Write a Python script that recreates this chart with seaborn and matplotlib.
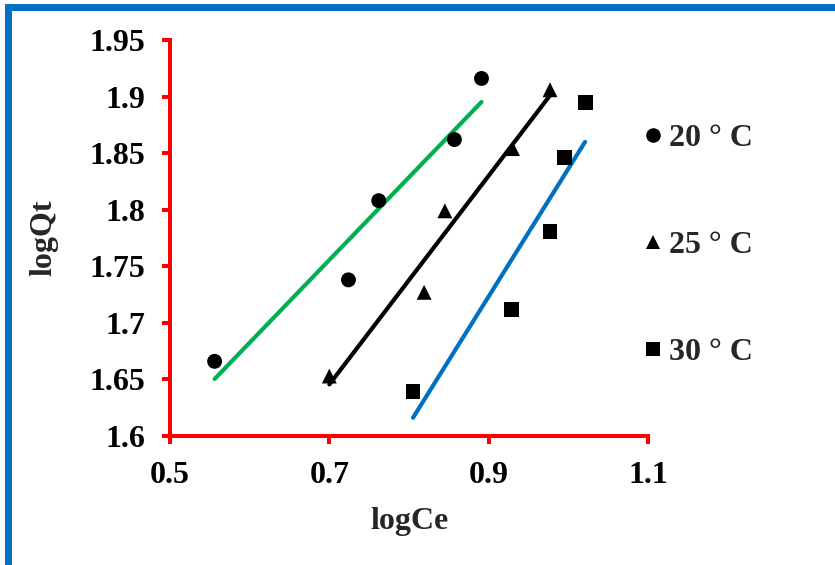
import numpy as np
import pandas as pd
import matplotlib
matplotlib.use("Agg")
import matplotlib.pyplot as plt
from matplotlib.lines import Line2D
import seaborn as sns

# ---- data ----
labels = ["20 \u00b0 C", "25 \u00b0 C", "30 \u00b0 C"]
x20 = [0.556, 0.724, 0.762, 0.857, 0.891]
y20 = [1.666, 1.738, 1.808, 1.862, 1.916]
x25 = [0.700, 0.819, 0.845, 0.930, 0.977]
y25 = [1.653, 1.727, 1.799, 1.854, 1.906]
x30 = [0.805, 0.929, 0.977, 0.995, 1.021]
y30 = [1.639, 1.712, 1.781, 1.846, 1.895]
xticks = [0.5, 0.7, 0.9, 1.1]
xticklabels = ["0.5", "0.7", "0.9", "1.1"]
yticks = [1.6, 1.65, 1.7, 1.75, 1.8, 1.85, 1.9, 1.95]
yticklabels = ["1.6", "1.65", "1.7", "1.75", "1.8", "1.85", "1.9", "1.95"]
line_colors = ["#00B050", "#000000", "#0070C0"]
markers = ["o", "^", "s"]

df = pd.DataFrame({
    "logCe": x20 + x25 + x30,
    "logQt": y20 + y25 + y30,
    "T": [labels[0]] * len(x20) + [labels[1]] * len(x25) + [labels[2]] * len(x30),
})

sns.set_style("white")
plt.rcParams["font.family"] = ["Liberation Serif", "DejaVu Serif"]
plt.rcParams["font.weight"] = "bold"

fig = plt.figure(figsize=(8.35, 5.65), dpi=100)
ax = fig.add_axes([170 / 835, 1 - 436 / 565, (648 - 170) / 835, (436 - 40) / 565])

# trend lines
for (xs, ys), c in zip([(x20, y20), (x25, y25), (x30, y30)], line_colors):
    sns.regplot(x=xs, y=ys, scatter=False, ci=None, truncate=True, color=c,
                line_kws={"lw": 3, "solid_capstyle": "round"}, ax=ax)

sns.scatterplot(data=df, x="logCe", y="logQt", style="T",
                markers=dict(zip(labels, markers)), color="black",
                edgecolor="none", s=115, ax=ax, legend=False, zorder=5)

ax.set_xlim(0.5, 1.1)
ax.set_ylim(1.6, 1.95)
ax.set_xticks(xticks)
ax.set_xticklabels(xticklabels)
ax.set_yticks(yticks)
ax.set_yticklabels(yticklabels)

for s in ["top", "right"]:
    ax.spines[s].set_visible(False)
for s in ["left", "bottom"]:
    ax.spines[s].set_color("red")
    ax.spines[s].set_linewidth(2.9)
    ax.spines[s].set_capstyle("projecting")
ax.tick_params(bottom=True, left=True, top=False, right=False,
               direction="out", length=6, width=2.9, color="red", pad=12,
               labelsize=23, labelcolor="black")
for t in ax.get_xticklabels() + ax.get_yticklabels():
    t.set_fontweight("bold")

ax.set_xlabel("logCe", fontsize=23, fontweight="bold", labelpad=12)
ax.set_ylabel("logQt", fontsize=23, fontweight="bold", labelpad=22)

handles = [Line2D([], [], marker=m, color="black", linestyle="none",
                  markersize=10.5, markeredgewidth=0) for m in markers]
leg = fig.legend(handles, labels, loc="upper left",
                 bbox_to_anchor=(645 / 835, 1 - 124 / 565),
                 frameon=False, handlelength=0.5, handletextpad=0.25,
                 labelspacing=2.42, borderpad=0, borderaxespad=0,
                 prop={"size": 23, "weight": "bold"})

# blue frame (left and top)
fig.add_artist(Line2D([7.5 / 835, 7.5 / 835, 1.0], [0.0, 1 - 7 / 565, 1 - 7 / 565],
                      transform=fig.transFigure, color="#0070C0", lw=5,
                      solid_joinstyle="miter"))

fig.savefig("out.png", dpi=100)
